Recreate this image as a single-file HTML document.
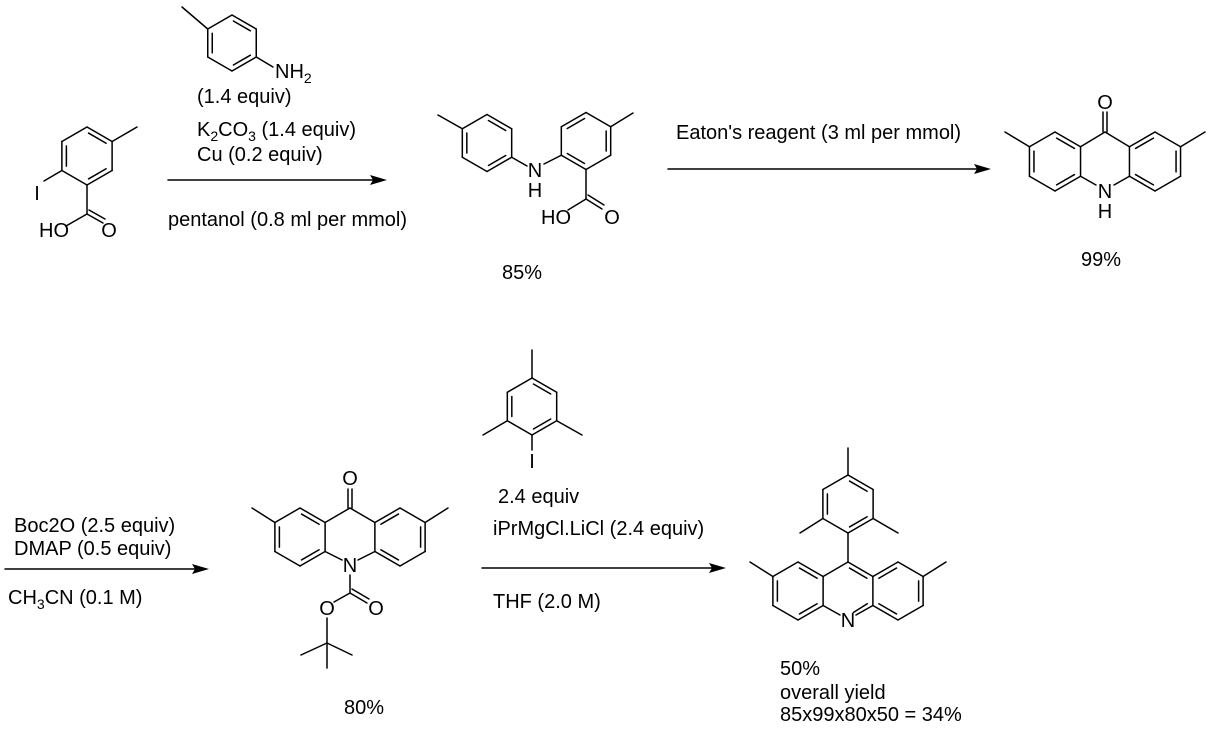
<!DOCTYPE html>
<html><head><meta charset="utf-8">
<style>
html,body{margin:0;padding:0;background:#fff;}
svg{display:block;}
text{font-family:"Liberation Sans",Arial,sans-serif;font-size:20px;fill:#000;}
.c{text-anchor:middle;}
</style></head>
<body>
<svg id="s" width="1210" height="732" viewBox="0 0 1210 732" xmlns="http://www.w3.org/2000/svg">
<g id="g" stroke="#000" stroke-width="1.5" fill="none" stroke-linecap="round"></g>
<g id="t">
<text x="275" y="78">NH<tspan font-size="14" dy="5">2</tspan></text>
<text x="197" y="103">(1.4 equiv)</text>
<text x="197" y="136">K<tspan font-size="14" dy="5">2</tspan><tspan dy="-5">CO</tspan><tspan font-size="14" dy="5">3</tspan><tspan dy="-5"> (1.4 equiv)</tspan></text>
<text x="197" y="161">Cu (0.2 equiv)</text>
<text x="168" y="226">pentanol (0.8 ml per mmol)</text>
<text class="c" x="37" y="200">I</text>
<text x="39" y="237">HO</text>
<text class="c" x="109" y="237">O</text>
<text class="c" x="535" y="177">N</text>
<text class="c" x="535" y="197">H</text>
<text x="541" y="224">HO</text>
<text class="c" x="612" y="224">O</text>
<text x="502" y="279">85%</text>
<text x="676" y="139">Eaton's reagent (3 ml per mmol)</text>
<text class="c" x="1105" y="109">O</text>
<text class="c" x="1105" y="198">N</text>
<text class="c" x="1105" y="218">H</text>
<text x="1081" y="266">99%</text>
<text x="14" y="532">Boc2O (2.5 equiv)</text>
<text x="14" y="555">DMAP (0.5 equiv)</text>
<text x="8" y="604">CH<tspan font-size="14" dy="5">3</tspan><tspan dy="-5">CN (0.1 M)</tspan></text>
<text class="c" x="350" y="485">O</text>
<text class="c" x="350" y="572">N</text>
<text class="c" x="327" y="615">O</text>
<text class="c" x="376" y="615">O</text>
<text x="344" y="714">80%</text>
<text class="c" x="532" y="468">I</text>
<text x="498" y="503">2.4 equiv</text>
<text x="493" y="535">iPrMgCl.LiCl (2.4 equiv)</text>
<text x="493" y="608">THF (2.0 M)</text>
<text class="c" x="848" y="627">N</text>
<text x="780" y="675">50%</text>
<text x="780" y="699">overall yield</text>
<text x="780" y="721">85x99x80x50 = 34%</text>
</g>
<g fill="#000">
<polygon points="387,180 370,175 373,180 370,185"/>
<polygon points="991,169 974,164 977,169 974,174"/>
<polygon points="209,569 192,564 195,569 192,574"/>
<polygon points="726,568 709,563 712,568 709,573"/>
</g>
</svg>
<script>
var G=document.getElementById('g'),NS='http://www.w3.org/2000/svg';
function L(x1,y1,x2,y2){var l=document.createElementNS(NS,'line');l.setAttribute('x1',x1);l.setAttribute('y1',y1);l.setAttribute('x2',x2);l.setAttribute('y2',y2);G.appendChild(l);}
function inner(a,b,c){var d=4.5,f=0.15;var mx=(a[0]+b[0])/2,my=(a[1]+b[1])/2;var vx=c[0]-mx,vy=c[1]-my,n=Math.hypot(vx,vy);vx=vx/n*d;vy=vy/n*d;
var x1=a[0]+(b[0]-a[0])*f+vx,y1=a[1]+(b[1]-a[1])*f+vy,x2=b[0]+(a[0]-b[0])*f+vx,y2=b[1]+(a[1]-b[1])*f+vy;L(x1,y1,x2,y2);}
function ring(cx,cy,r,dbl,skip){var v=[];for(var k=0;k<6;k++){var a=(-90+60*k)*Math.PI/180;v.push([cx+r*Math.cos(a),cy+r*Math.sin(a)]);}
for(var k=0;k<6;k++){if(skip&&skip.indexOf(k)>=0)continue;var b=v[(k+1)%6];L(v[k][0],v[k][1],b[0],b[1]);if(dbl.indexOf(k)>=0)inner(v[k],b,[cx,cy]);}return v;}
var v=ring(87,156,29,[0,2,4]);
L(v[1][0],v[1][1],137,127);L(v[4][0],v[4][1],44,181);
L(87,185,87,214);L(87,214,66,226);L(87,214,103,223);L(89,210,105,219);
v=ring(232,43,28,[0,2,4]);L(v[5][0],v[5][1],182,7);L(v[2][0],v[2][1],273,67);
L(168,180,375,180);
v=ring(487,143,28.5,[0,2,4]);L(v[5][0],v[5][1],438,115);L(v[2][0],v[2][1],527,166);
var w=ring(586,141,28.5,[5,1,3]);L(w[4][0],w[4][1],544,164);L(w[1][0],w[1][1],633,113);
L(w[3][0],w[3][1],586,199);L(586,199,568,210);L(586,199,602,209);L(588,195,604,205);
L(668,169,978,169);
v=ring(1055,161.5,29.5,[0,2,4]);w=ring(1155,161.5,29.5,[5,1,3]);
L(v[5][0],v[5][1],1005,132);L(w[1][0],w[1][1],1205,132);
L(1105,132,v[1][0],v[1][1]);L(1105,132,w[5][0],w[5][1]);L(1103,132,1103,112);L(1107,132,1107,112);
L(v[2][0],v[2][1],1096,185);L(w[4][0],w[4][1],1114,185);
L(5,569,196,569);
v=ring(300,537,29,[0,2,4]);w=ring(400,537,29,[5,1,3]);
L(v[5][0],v[5][1],252,508);L(w[1][0],w[1][1],448,508);
L(350,508,v[1][0],v[1][1]);L(350,508,w[5][0],w[5][1]);L(348,508,348,489);L(352,508,352,489);
L(v[2][0],v[2][1],342,560);L(w[4][0],w[4][1],358,560);
L(350,575,350,593);L(350,593,334,602);L(350,593,367,603);L(352,589,369,599);
L(327,618,327,668);L(327,643,301,655);L(327,643,352,655);
v=ring(532,406.5,28.5,[0,2,4]);
L(532,350,532,378);L(v[4][0],v[4][1],483,435);L(v[2][0],v[2][1],582,435);L(532,435,532,450);
L(482,568,712,568);
v=ring(848,504,29,[0,2,4]);
L(848,448,848,475);L(v[4][0],v[4][1],800,533);L(v[2][0],v[2][1],898,533);L(848,533,848,562);
var a=ring(798,591,29,[0,2,4]);var b=ring(898,591,29,[5,1,3]);
L(a[5][0],a[5][1],750,562);L(b[1][0],b[1][1],946,562);
L(848,562,a[1][0],a[1][1]);L(848,562,b[5][0],b[5][1]);inner([848,562],b[5],[848,591]);
L(a[2][0],a[2][1],840,615);L(b[4][0],b[4][1],856,615);inner([853,618],b[4],[848,591]);
</script>
</body></html>
